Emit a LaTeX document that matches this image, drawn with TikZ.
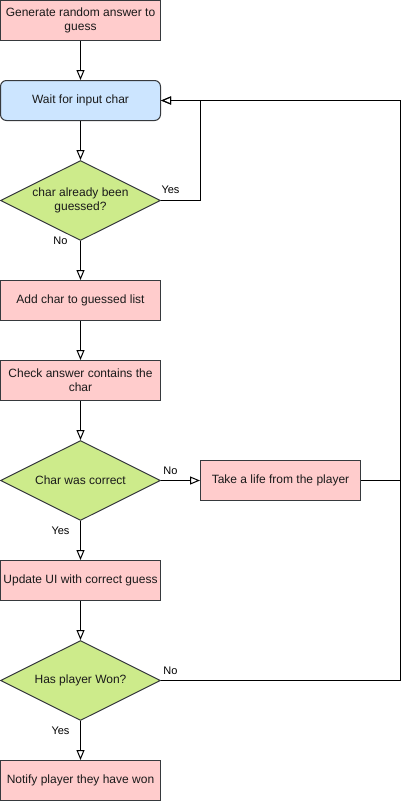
\documentclass[tikz,border=0pt]{standalone}
\usepackage{fontspec}
\setmainfont{Liberation Sans}
\usetikzlibrary{shapes.geometric,arrows.meta}
\definecolor{pinkf}{HTML}{FFCCCC}
\definecolor{bluef}{HTML}{CCE5FF}
\definecolor{greenf}{HTML}{CDEB8B}
\definecolor{bord}{HTML}{36393D}
\definecolor{txt}{HTML}{1A1A1A}
\begin{document}
\begin{tikzpicture}[x=1pt,y=-1pt,
  box/.style={draw=bord,fill=pinkf,line width=1pt,minimum width=160pt,minimum height=40pt,inner sep=0pt,align=center,text=txt,font=\fontsize{12}{14}\selectfont},
  rbox/.style={box,fill=bluef,rounded corners=6pt},
  dia/.style={draw=bord,fill=greenf,line width=1pt,diamond,minimum width=160pt,minimum height=80pt,inner sep=0pt},
  dtext/.style={align=center,text=txt,font=\fontsize{12}{14}\selectfont,inner sep=0pt},
  lab/.style={text=black,font=\fontsize{11}{13}\selectfont,inner sep=0pt},
  conn/.style={draw=black,line width=1pt,-{Triangle[open,length=10pt,width=8pt]}},
  plain/.style={draw=black,line width=1pt}]
\useasboundingbox (0,0) rectangle (402,801);
\node[box] (b1) at (80.5,20.5) {Generate random answer to\\guess};
\node[rbox] (b2) at (80.5,100.5) {Wait for input char};
\node[dia] (d1) at (80.5,200.5) {};
\node[dtext] (t1) at (d1.center) {char already been\\guessed?};
\node[box] (b3) at (80.5,300.5) {Add char to guessed list};
\node[box] (b4) at (80.5,380.5) {Check answer contains the\\char};
\node[dia] (d2) at (80.5,480.5) {};
\node[dtext] (t2) at (d2.center) {Char was correct};
\node[box] (b7) at (280.5,480.5) {Take a life from the player};
\node[box] (b5) at (80.5,580.5) {Update UI with correct guess};
\node[dia] (d3) at (80.5,680.5) {};
\node[dtext] (t3) at (d3.center) {Has player Won?};
\node[box] (b6) at (80.5,780.5) {Notify player they have won};
\coordinate (ry) at (200.5,200.5);
\coordinate (rtop) at (400.5,100.5);
\coordinate (rbot) at (400.5,680.5);
\coordinate (rmid) at (400.5,480.5);
\draw[conn] (b1) -- (b2);
\draw[conn] (b2) -- (d1);
\draw[conn] (d1.east) -- (ry) |- (b2.east);
\draw[conn] (d1) -- (b3);
\draw[conn] (b3) -- (b4);
\draw[conn] (b4) -- (d2);
\draw[conn] (d2.east) -- (b7.west);
\draw[conn] (d2) -- (b5);
\draw[conn] (b5) -- (d3);
\draw[conn] (d3) -- (b6);
\draw[conn] (d3.east) -- (rbot) -- (rtop) -- (b2.east);
\draw[plain] (b7.east) -- (rmid);
\node[lab] (l1) at (170.5,190) {Yes};
\node[lab] (l2) at (60.5,241) {No};
\node[lab] (l3) at (170.5,471) {No};
\node[lab] (l4) at (60.5,531) {Yes};
\node[lab] (l5) at (170.5,671) {No};
\node[lab] (l6) at (60.5,731) {Yes};
\end{tikzpicture}
\end{document}
